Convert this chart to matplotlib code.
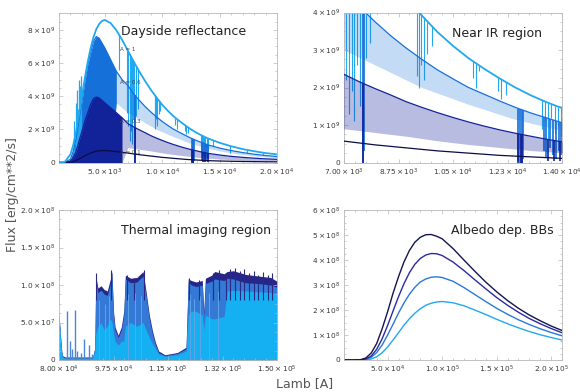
import numpy as np
import matplotlib
matplotlib.use('Agg')
import matplotlib.pyplot as plt
from matplotlib.ticker import AutoMinorLocator

# cores das series (A = 1, 0.6, 0.3, 0.1)
c_light = '#22a8ef'
c_mid = '#1670da'
c_dark = '#12239a'
c_navy = '#0c0c48'

# espectro visivel / IV proximo, fluxo em 1e9 erg/cm**2/s
wave = [1000, 1500, 2000, 2250, 2500, 2750, 3000, 3250, 3500, 3750, 4000, 4250, 4500, 4750,
        5000, 5500, 6000, 6500, 7000, 7500, 8000, 8500, 9000, 9500, 10000, 10500, 11000,
        11500, 12000, 12500, 13000, 13500, 14000, 15000, 16000, 17000, 18000, 19000, 20000]
flux_a1 = [0.0, 0.03, 0.49, 1.08, 1.9, 2.92, 4.0, 5.09, 6.05, 6.88, 7.55, 8.04, 8.36, 8.54,
           8.6, 8.41, 7.98, 7.4, 6.75, 6.1, 5.49, 4.92, 4.39, 3.92, 3.48, 3.11, 2.78,
           2.5, 2.24, 2.0, 1.79, 1.61, 1.45, 1.19, 0.98, 0.81, 0.68, 0.57, 0.49]
flux_a06 = [0.0, 0.0, 0.2, 0.7, 1.5, 2.6, 3.7, 4.9, 5.9, 6.6, 7.3, 7.6, 7.5, 7.2,
            6.9, 6.2, 5.5, 5.0, 4.65, 4.15, 3.75, 3.38, 3.05, 2.75, 2.47, 2.23, 2.0,
            1.82, 1.64, 1.47, 1.32, 1.19, 1.06, 0.87, 0.72, 0.6, 0.5, 0.42, 0.36]
floor_a06 = [0, 0, 0, 0, 0, 0, 0, 0, 0, 0, 0, 0, 0, 0,
             0, 0, 3.6, 3.3, 3.0, 2.8, 2.6, 2.4, 2.2, 2.0, 1.85, 1.7, 1.55,
             1.42, 1.28, 1.15, 1.05, 0.95, 0.85, 0.7, 0.58, 0.48, 0.4, 0.34, 0.29]
flux_a03 = [0.0, 0.0, 0.08, 0.3, 0.7, 1.3, 1.9, 2.5, 3.0, 3.5, 3.85, 3.95, 3.9, 3.75,
            3.6, 3.3, 3.0, 2.7, 2.35, 2.15, 1.97, 1.8, 1.62, 1.47, 1.33, 1.2, 1.08,
            0.97, 0.87, 0.78, 0.7, 0.62, 0.55, 0.45, 0.37, 0.31, 0.26, 0.22, 0.19]
floor_a03 = [0, 0, 0, 0, 0, 0, 0, 0, 0, 0, 0, 0, 0, 0,
             0, 0, 0, 0, 0.9, 0.85, 0.8, 0.75, 0.7, 0.64, 0.58, 0.53, 0.48,
             0.44, 0.4, 0.36, 0.32, 0.29, 0.26, 0.21, 0.17, 0.14, 0.12, 0.1, 0.09]
flux_a01 = [0.0, 0.0, 0.02, 0.06, 0.13, 0.21, 0.3, 0.4, 0.49, 0.57, 0.63, 0.68, 0.71, 0.72,
            0.72, 0.7, 0.66, 0.61, 0.57, 0.52, 0.47, 0.43, 0.39, 0.35, 0.31, 0.28, 0.25,
            0.22, 0.19, 0.17, 0.15, 0.13, 0.11, 0.09, 0.075, 0.063, 0.053, 0.045, 0.04]

# linhas de absorcao (posicao, fundo, topo)
lines_a1_x = [6270, 6900, 7050, 7150, 7250, 7320, 7420, 7520, 7700, 7850, 9330, 9400, 9460,
              9560, 9680, 9820, 11150, 11250, 11320, 11950, 12050, 12200, 13350, 13450,
              13560, 13660, 13760, 13860, 13960, 14450, 15900, 17360, 18800]
lines_a1_lo = [5.6, 3.0, 2.2, 1.3, 1.9, 1.1, 2.6, 1.5, 2.8, 3.2, 2.3, 2.0, 2.6,
               2.2, 2.9, 3.1, 2.25, 2.0, 2.45, 1.9, 1.7, 1.8, 0.9, 1.1,
               0.6, 1.2, 0.8, 1.0, 0.7, 1.0, 0.55, 0.6, 0.45]
lines_a1_hi = [7.7, 6.9, 6.7, 6.55, 6.4, 6.3, 6.2, 6.1, 5.85, 5.65, 4.1, 4.03, 3.97,
               3.87, 3.75, 3.63, 2.7, 2.64, 2.6, 2.27, 2.22, 2.15, 1.66, 1.63,
               1.59, 1.55, 1.52, 1.49, 1.46, 1.33, 1.0, 0.77, 0.59]
lines_a06_x = [7610, 7650, 12580, 12640, 12700, 12750, 13420, 13500, 13600, 13700, 13800, 13900, 13980]
lines_a06_lo = [0.0, 0.3, 0.05, 0.0, 0.0, 0.1, 0.3, 0.15, 0.4, 0.2, 0.1, 0.3, 0.2]
lines_a06_hi = [4.1, 4.05, 1.43, 1.42, 1.41, 1.4, 1.21, 1.19, 1.17, 1.14, 1.12, 1.09, 1.07]
lines_a03_x = [7620, 12600, 12670, 12720, 13550, 13750, 13950]
lines_a03_lo = [0.0, 0.0, 0.0, 0.0, 0.05, 0.05, 0.05]
lines_a03_hi = [2.1, 0.77, 0.76, 0.76, 0.62, 0.59, 0.56]
# picos no lado azul do espectro A = 0.6
spikes_a06_x = [2350, 2450, 2550, 2650, 2750, 2850, 2950]
spikes_a06_hi = [2.5, 3.6, 4.4, 3.2, 5.0, 4.6, 5.2]

# regiao termica, fluxo em 1e7
p3_wave = [80000, 80500, 81000, 82000, 90800, 91500, 91800, 92500, 93500, 94500, 95500, 96500,
           97000, 97500, 98000, 99000, 100000, 100800, 101300, 103000, 105000, 107000, 108000,
           109000, 110000, 111000, 112000, 114000, 118000, 120800, 121500, 122500, 124000,
           126000, 126500, 127000, 129000, 130000, 133000, 134000, 136000, 140000, 144000,
           148000, 150000]
p3_navy = [6.2, 3.1, 0.6, 0.4, 0.4, 1.6, 11.2, 9.6, 9.9, 9.4, 9.2, 10.8, 11.8, 6.5, 4.4, 3.3,
           4.4, 6.5, 11.3, 10.9, 11.0, 11.8, 9.0, 6.0, 3.9, 2.3, 1.2, 0.7, 1.0, 1.7, 10.8, 10.6,
           10.4, 10.6, 6.5, 10.9, 11.3, 11.8, 11.5, 11.8, 11.9, 11.4, 11.2, 11.0, 10.5]
p3_mid = [6.0, 3.0, 0.5, 0.3, 0.3, 1.5, 10.8, 9.0, 9.3, 8.8, 8.6, 10.2, 11.2, 6.0, 4.0, 3.0,
          4.0, 6.0, 10.8, 10.3, 10.4, 11.2, 8.5, 5.5, 3.5, 2.0, 1.0, 0.6, 0.9, 1.5, 10.4, 10.0,
          9.8, 10.0, 6.0, 10.2, 10.5, 10.8, 10.6, 10.9, 10.8, 10.3, 10.2, 10.0, 9.7]
p3_light = [5.5, 2.8, 0.4, 0.25, 0.25, 1.2, 3.5, 4.5, 5.0, 4.0, 4.5, 5.5, 5.0, 3.5, 2.5, 2.0,
            2.5, 2.5, 4.5, 5.0, 4.5, 5.0, 4.0, 3.0, 2.2, 1.5, 0.8, 0.5, 0.7, 1.2, 6.0, 6.5,
            6.5, 6.0, 4.0, 6.0, 5.5, 5.5, 5.8, 9.2, 9.3, 9.2, 9.1, 9.0, 8.9]
p3_spike_x = [82500, 83500, 84200, 85000, 85800, 87000, 88000, 89500, 90500]
p3_spike_y = [6.6, 2.5, 1.5, 6.7, 1.2, 1.0, 2.8, 2.0, 0.8]
p3_peak_x = [92000, 96800, 101800, 104000, 107200, 121800, 125000, 129500, 131500, 133500,
             135000, 136500, 138000, 139500, 141000, 142500, 144000, 145500, 147000, 148500]
p3_peak_y = [11.6, 12.0, 11.3, 11.0, 12.0, 10.9, 10.7, 11.6, 12.0, 11.6,
             12.2, 12.3, 11.9, 12.1, 11.6, 11.9, 11.4, 11.8, 11.3, 11.6]
# fendas claras dentro das bandas
p3_gap_x = [93000, 94800, 96000, 102200, 104500, 106200, 122000, 123200, 125200, 128200, 131000]
p3_gap_y = [8.0, 7.5, 8.5, 8.8, 9.0, 8.6, 8.8, 8.2, 8.5, 9.0, 9.2]

# corpos negros dependentes do albedo, fluxo em 1e8
p4_wave = [10000, 20000, 25000, 30000, 35000, 40000, 45000, 50000, 55000, 60000, 65000, 70000,
           75000, 80000, 85000, 90000, 95000, 100000, 110000, 120000, 130000, 140000, 150000,
           160000, 170000, 180000, 190000, 200000, 210000]
bb_a01 = [0, 0, 0.01, 0.08, 0.28, 0.66, 1.25, 1.93, 2.67, 3.33, 3.92, 4.38, 4.71, 4.91, 5.01,
          5.02, 4.95, 4.85, 4.46, 4.0, 3.55, 3.12, 2.73, 2.38, 2.07, 1.8, 1.57, 1.36, 1.18]
bb_a03 = [0, 0, 0, 0.04, 0.16, 0.43, 0.85, 1.38, 1.96, 2.53, 3.05, 3.49, 3.83, 4.06, 4.2,
          4.26, 4.25, 4.18, 3.92, 3.58, 3.21, 2.85, 2.5, 2.19, 1.91, 1.66, 1.45, 1.26, 1.09]
bb_a06 = [0, 0, 0, 0.02, 0.11, 0.3, 0.6, 1.0, 1.43, 1.88, 2.28, 2.63, 2.91, 3.12, 3.24,
          3.31, 3.33, 3.3, 3.15, 2.9, 2.62, 2.34, 2.07, 1.83, 1.61, 1.42, 1.25, 1.1, 0.97]
bb_a1 = [0, 0, 0, 0.01, 0.04, 0.13, 0.29, 0.52, 0.8, 1.09, 1.39, 1.65, 1.87, 2.05, 2.19,
         2.27, 2.32, 2.34, 2.29, 2.17, 2.0, 1.82, 1.63, 1.45, 1.29, 1.14, 1.01, 0.9, 0.8]


def lab(m, e):
    return r'$%s\times10^{%d}$' % (m, e)


fig = plt.figure(figsize=(5.8, 3.92), dpi=100)


def painel(x0, ytop):
    return fig.add_axes([x0 / 580, (392 - ytop - 150) / 392, 218 / 580, 150 / 392])


def estilo(ax, xt, xl, yt, yl):
    ax.set_xticks(xt)
    ax.set_xticklabels(xl)
    ax.set_yticks(yt)
    ax.set_yticklabels(yl)
    ax.xaxis.set_minor_locator(AutoMinorLocator(5))
    ax.yaxis.set_minor_locator(AutoMinorLocator(4))
    for s in ax.spines.values():
        s.set_color('#b8b8b8')
        s.set_linewidth(0.6)
    ax.tick_params(which='both', direction='in', top=True, right=True, colors='#b8b8b8',
                   labelcolor='#3a3a3a', labelsize=5.3, width=0.5, pad=3)
    ax.tick_params(which='major', length=3)
    ax.tick_params(which='minor', length=1.5)


def espectros(ax):
    w = np.array(wave)
    ax.vlines(lines_a1_x, lines_a1_lo, lines_a1_hi, color=c_light, lw=0.8, zorder=1)
    ax.fill_between(w, floor_a06, flux_a06, where=w <= 6000, color=c_mid, lw=0, zorder=2)
    ax.fill_between(w, floor_a06, flux_a06, where=w >= 6000, color=c_mid, alpha=0.25, lw=0, zorder=2)
    ax.vlines(spikes_a06_x, 0, spikes_a06_hi, color=c_light, lw=0.9, zorder=2)
    ax.plot(w, flux_a06, color=c_mid, lw=0.9, zorder=2)
    ax.vlines(lines_a06_x, lines_a06_lo, lines_a06_hi, color=c_mid, lw=1.2, zorder=2)
    ax.fill_between(w, floor_a03, flux_a03, where=w <= 6500, color=c_dark, lw=0, zorder=3)
    ax.fill_between(w, floor_a03, flux_a03, where=w >= 6500, color=c_dark, alpha=0.3, lw=0, zorder=3)
    ax.plot(w, flux_a03, color=c_dark, lw=0.9, zorder=3)
    ax.vlines(lines_a03_x, lines_a03_lo, lines_a03_hi, color=c_dark, lw=1.2, zorder=3)
    ax.plot(w, flux_a01, color=c_navy, lw=0.9, zorder=4)
    ax.plot(w, flux_a1, color=c_light, lw=1.3, zorder=5)


# Dayside reflectance
ax1 = painel(59, 12.5)
espectros(ax1)
ax1.set_xlim(1000, 20000)
ax1.set_ylim(0, 9.05)
estilo(ax1, [5000, 10000, 15000, 20000],
       [lab('5.0', 3), lab('1.0', 4), lab('1.5', 4), lab('2.0', 4)],
       [0, 2, 4, 6, 8], ['0', lab('2', 9), lab('4', 9), lab('6', 9), lab('8', 9)])
for txt, yv in [('A = 1', 6.8), ('A = 0.6', 4.85), ('A = 0.3', 2.45), ('A = 0.1', 0.6)]:
    ax1.text(6300, yv, txt, fontsize=4, color='#444444', va='center', zorder=6)

# Near IR region
ax2 = painel(344, 12.5)
espectros(ax2)
ax2.set_xlim(7000, 14000)
ax2.set_ylim(0, 4)
estilo(ax2, [7000, 8750, 10500, 12250, 14000],
       [lab('7.00', 3), lab('8.75', 3), lab('1.05', 4), lab('1.23', 4), lab('1.40', 4)],
       [0, 1, 2, 3, 4], ['0', lab('1', 9), lab('2', 9), lab('3', 9), lab('4', 9)])

# Thermal imaging region
ax3 = painel(59, 210)
ax3.fill_between(p3_wave, 0, p3_navy, color='#26268a', lw=0)
ax3.fill_between(p3_wave, 0, p3_mid, color='#3479d6', lw=0)
ax3.fill_between(p3_wave, 0, p3_light, color='#14b0f2', lw=0)
ax3.vlines(p3_gap_x, 0, p3_gap_y, color='#5fa4e8', lw=0.7)
ax3.vlines(p3_spike_x, 0, p3_spike_y, color='#4a86dc', lw=1.0)
ax3.vlines(p3_peak_x, 8, p3_peak_y, color='#2a2a86', lw=0.8)
ax3.set_xlim(80000, 150000)
ax3.set_ylim(0, 20)
estilo(ax3, [80000, 97500, 115000, 132500, 150000],
       [lab('8.00', 4), lab('9.75', 4), lab('1.15', 5), lab('1.32', 5), lab('1.50', 5)],
       [0, 5, 10, 15, 20], ['0', lab('5.0', 7), lab('1.0', 8), lab('1.5', 8), lab('2.0', 8)])

# Albedo dep. BBs
ax4 = painel(344, 210)
ax4.plot(p4_wave, bb_a1, color=c_light, lw=1.0)
ax4.plot(p4_wave, bb_a06, color='#2a78dc', lw=1.0)
ax4.plot(p4_wave, bb_a03, color='#2b2ba0', lw=1.0)
ax4.plot(p4_wave, bb_a01, color='#141450', lw=1.0)
ax4.set_xlim(10000, 210000)
ax4.set_ylim(0, 6)
estilo(ax4, [50000, 100000, 150000, 200000],
       [lab('5.0', 4), lab('1.0', 5), lab('1.5', 5), lab('2.0', 5)],
       [0, 1, 2, 3, 4, 5, 6], ['0'] + [lab(str(i), 8) for i in range(1, 7)])

# titulos e rotulos dos eixos
for x0, y0, txt in [(121, 32, 'Dayside reflectance'), (452, 33, 'Near IR region'),
                    (121, 230, 'Thermal imaging region'), (451, 230, 'Albedo dep. BBs')]:
    fig.text(x0 / 580, 1 - y0 / 392, txt, fontsize=9, color='#222222', va='center', ha='left')
fig.text(13 / 580, 1 - 195 / 392, 'Flux [erg/cm**2/s]', rotation=90, fontsize=9,
         color='#555555', va='center', ha='center')
fig.text(305 / 580, 1 - 384 / 392, 'Lamb [A]', fontsize=9, color='#555555',
         va='center', ha='center')

fig.savefig('out.png', dpi=100)
